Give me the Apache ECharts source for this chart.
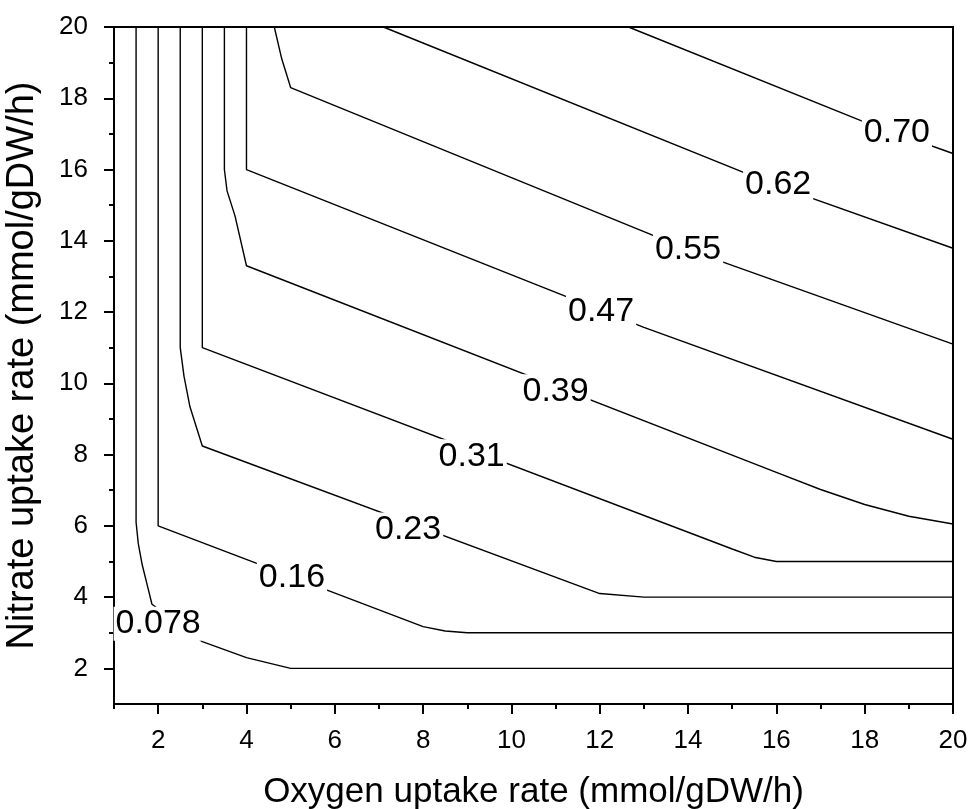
<!DOCTYPE html>
<html>
<head>
<meta charset="utf-8">
<script src="https://cdn.jsdelivr.net/npm/echarts@6/dist/echarts.min.js"></script>
<style>
  html, body { margin: 0; padding: 0; background: #fff; }
  #contour { width: 974px; height: 809px; }
</style>
</head>
<body>
<div id="contour"></div>
<script>
// contour levels (growth rate) and the traced lines, [oxygen, nitrate]
const levels = ["0.078", "0.16", "0.23", "0.31", "0.39", "0.47", "0.55", "0.62", "0.70"];

const c078 = [[1.5, 20], [1.5, 6.1], [1.55, 5.5], [1.64, 4.9], [1.75, 4.35], [1.86, 3.8], [3.0, 2.75], [4.0, 2.3], [5.0, 2.0], [20, 2.0]];
const c16 = [[2, 20], [2, 6], [8, 3.17], [8.5, 3.05], [9, 3.0], [20, 3.0]];
const c23 = [[2.5, 20], [2.5, 11], [2.585, 10.2], [2.72, 9.34], [3.0, 8.24], [12, 4.1], [13, 4.0], [20, 4.0]];
const c31 = [[3, 20], [3, 11], [15, 5.35], [15.5, 5.12], [16, 5.0], [20, 5.0]];
const c39 = [[3.5, 20], [3.5, 16], [3.56, 15.4], [3.74, 14.7], [4, 13.3], [16, 7.5], [17, 7.02], [18, 6.6], [19, 6.27], [20, 6.05]];
const c47 = [[4, 20], [4, 16], [13, 11.57], [20, 8.43]];
const c55 = [[4.63, 20], [4.8, 19.1], [5, 18.3], [14, 13.75], [20, 11.1]];
const c62 = [[7.1, 20], [16, 15.55], [20, 13.79]];
const c70 = [[12.65, 20], [18, 17.33], [20, 16.45]];
const contours = [c078, c16, c23, c31, c39, c47, c55, c62, c70];

// where each level's label sits on its line
const labelPos = [[2.0, 3.25], [5.03, 4.54], [7.66, 5.9], [9.1, 7.95], [11.0, 9.78], [12.03, 12.0], [14.0, 13.74], [16.04, 15.58], [18.73, 17.04]];

// ticks
const xMajorTicks = [2, 4, 6, 8, 10, 12, 14, 16, 18, 20];
const xMinorTicks = [1, 3, 5, 7, 9, 11, 13, 15, 17, 19];
const yMajorTicks = [2, 4, 6, 8, 10, 12, 14, 16, 18, 20];
const yMinorTicks = [3, 5, 7, 9, 11, 13, 15, 17, 19];

const font = "Liberation Sans, Arial, sans-serif";

const majorAxis = (ticks) => ({
  type: "value",
  min: 1,
  max: 20,
  axisLine: { show: true, lineStyle: { color: "#000", width: 2 } },
  axisTick: { show: true, customValues: ticks, length: 10, lineStyle: { color: "#000", width: 2 } },
  axisLabel: { customValues: ticks, color: "#000", fontSize: 26, fontFamily: font },
  splitLine: { show: false },
});

const minorAxis = (ticks, position) => ({
  type: "value",
  min: 1,
  max: 20,
  position: position,
  axisLine: { show: false },
  axisTick: { show: true, customValues: ticks, length: 5, lineStyle: { color: "#000", width: 2 } },
  axisLabel: { show: false },
  splitLine: { show: false },
});

let lineSeries = contours.map((pts, i) => ({
  name: levels[i],
  type: "line",
  data: pts,
  symbol: "none",
  silent: true,
  z: 2,
  lineStyle: { color: "#000", width: 1.4 },
}));

let labelSeries = {
  name: "labels",
  type: "scatter",
  data: labelPos.map((p, i) => [p[0], p[1], levels[i]]),
  symbolSize: 2,
  silent: true,
  itemStyle: { color: "rgba(255,255,255,0)", opacity: 1 },
  z: 5,
  label: {
    show: true,
    position: "inside",
    formatter: (p) => p.value[2],
    color: "#000",
    opacity: 1,
    textBorderWidth: 0,
    fontSize: 34,
    fontFamily: font,
    backgroundColor: "#fff",
    padding: [0, 2],
  },
  labelLayout: { hideOverlap: false },
};

let xMain = majorAxis(xMajorTicks);
xMain.position = "bottom";
xMain.axisLabel.margin = 24;
xMain.name = "Oxygen uptake rate (mmol/gDW/h)";
xMain.nameLocation = "middle";
xMain.nameGap = 71;
xMain.nameTextStyle = { color: "#000", fontSize: 35, fontFamily: font };

let yMain = majorAxis(yMajorTicks);
yMain.position = "left";
yMain.axisLabel.margin = 26;
yMain.name = "Nitrate uptake rate (mmol/gDW/h)";
yMain.nameLocation = "middle";
yMain.nameGap = 72;
yMain.nameTextStyle = { color: "#000", fontSize: 38, fontFamily: font };

let option = {
  backgroundColor: "#fff",
  animation: false,
  grid: {
    left: 114,
    right: 21,
    top: 27,
    bottom: 105,
    outerBoundsMode: "none",
    show: true,
    borderColor: "#000",
    borderWidth: 2,
  },
  xAxis: [xMain, minorAxis(xMinorTicks, "bottom")],
  yAxis: [yMain, minorAxis(yMinorTicks, "left")],
  series: lineSeries.concat([labelSeries]),
};

let chart = echarts.init(document.getElementById("contour"));
chart.setOption(option);
</script>
</body>
</html>
